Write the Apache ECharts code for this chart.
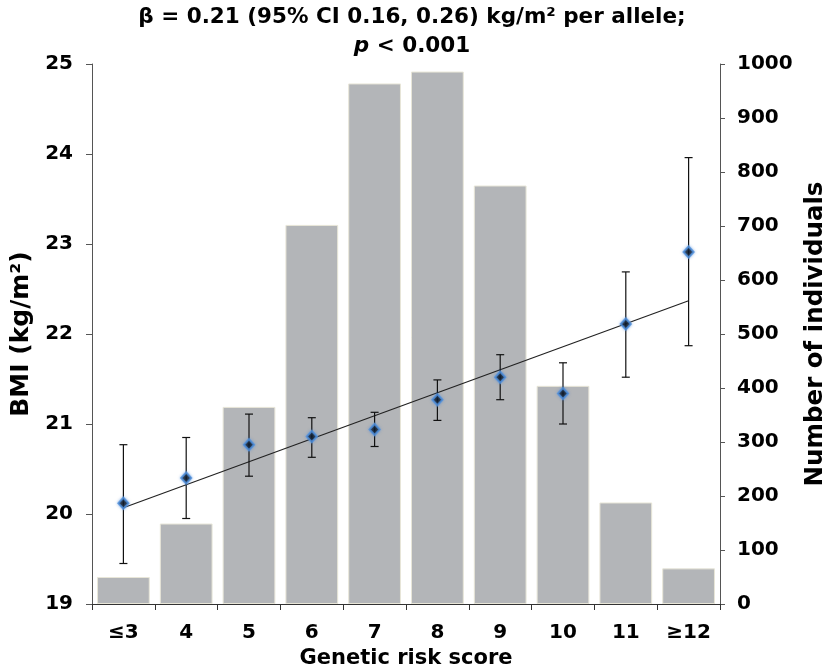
<!DOCTYPE html>
<html><head><meta charset="utf-8">
<script src="https://cdn.jsdelivr.net/npm/echarts@6/dist/echarts.min.js"></script>
<style>html,body{margin:0;padding:0;background:#fff}#c{width:824px;height:668px}</style>
</head><body><div id="c"></div>
<script>
const categories = ['≤3','4','5','6','7','8','9','10','11','≥12'];
const counts = [50, 149, 365, 702, 964, 986, 775, 404, 188, 66];
const bmiMean = [20.12, 20.40, 20.77, 20.86, 20.94, 21.27, 21.52, 21.34, 22.11, 22.91];
const ciLow  = [19.45, 19.95, 20.42, 20.63, 20.75, 21.04, 21.27, 21.00, 21.52, 21.87];
const ciHigh = [20.77, 20.85, 21.11, 21.07, 21.13, 21.49, 21.77, 21.68, 22.69, 23.96];
const trendEnds = [20.07, 22.37];
const bmiTicks = [19, 25, 1];
const countTicks = [0, 1000, 100];

const FONT = 'DejaVu Sans';
const chart = echarts.init(document.getElementById('c'), null, {renderer:'canvas'});
const errData = categories.map((c,i)=>[i, ciLow[i], ciHigh[i]]);
chart.setOption({
  animation:false,
  backgroundColor:'#fff',
  textStyle:{fontFamily:FONT},
  title:{
    left:'center', top:-2,
    text:'{b|β = 0.21 (95% CI 0.16, 0.26) kg/m² per allele;}\n{i|p}{b| < 0.001}',
    textStyle:{
      rich:{
        b:{fontFamily:FONT,fontWeight:'bold',fontSize:21.5,color:'#000',lineHeight:29},
        i:{fontFamily:FONT,fontWeight:'bold',fontStyle:'italic',fontSize:21.5,color:'#000',lineHeight:29}
      }
    }
  },
  grid:{left:92,right:104,top:64,bottom:64,containLabel:false,outerBoundsMode:'none'},
  xAxis:{
    type:'category', data:categories, boundaryGap:true,
    axisLine:{lineStyle:{color:'#333',width:1}},
    axisTick:{show:true,length:6,inside:false,lineStyle:{color:'#333'}},
    axisLabel:{color:'#000',fontWeight:'bold',fontSize:20,fontFamily:FONT,margin:19},
    name:'Genetic risk score', nameLocation:'middle', nameGap:44,
    nameTextStyle:{color:'#000',fontWeight:'bold',fontSize:21,fontFamily:FONT}
  },
  yAxis:[{
    type:'value', min:bmiTicks[0], max:bmiTicks[1], interval:bmiTicks[2], position:'left',
    splitLine:{show:false},
    axisLine:{show:true,lineStyle:{color:'#555',width:1}},
    axisTick:{show:true,length:6,lineStyle:{color:'#555'}},
    axisLabel:{color:'#000',fontWeight:'bold',fontSize:20,fontFamily:FONT,margin:19},
    name:'BMI (kg/m²)', nameLocation:'middle', nameRotate:90, nameGap:56,
    nameTextStyle:{color:'#000',fontWeight:'bold',fontSize:25,fontFamily:FONT}
  },{
    type:'value', min:countTicks[0], max:countTicks[1], interval:countTicks[2], position:'right',
    splitLine:{show:false},
    axisLine:{show:true,lineStyle:{color:'#555',width:1}},
    axisTick:{show:true,length:5,lineStyle:{color:'#555'}},
    axisLabel:{color:'#000',fontWeight:'bold',fontSize:20,fontFamily:FONT,margin:17,
      formatter:function(v){return String(v);}},
    name:'Number of individuals', nameLocation:'middle', nameRotate:90, nameGap:79,
    nameTextStyle:{color:'#000',fontWeight:'bold',fontSize:24.5,fontFamily:FONT}
  }],
  series:[{
    type:'bar', yAxisIndex:1, data:counts, barCategoryGap:'16%',
    itemStyle:{color:'#b3b5b8',borderColor:'#e8e6d8',borderWidth:1},
    z:1
  },{
    type:'line', yAxisIndex:0, data:[[0,trendEnds[0]],[categories.length-1,trendEnds[1]]],
    symbol:'none', lineStyle:{color:'#222',width:1.2}, z:3
  },{
    type:'custom', yAxisIndex:0, data:errData, z:4,
    renderItem:function(params, api){
      const x = api.value(0);
      const lo = api.coord([x, api.value(1)]);
      const hi = api.coord([x, api.value(2)]);
      const cw = 4;
      const st = {stroke:'#111',lineWidth:1.2};
      return {type:'group',children:[
        {type:'line',shape:{x1:lo[0],y1:lo[1],x2:hi[0],y2:hi[1]},style:st},
        {type:'line',shape:{x1:lo[0]-cw,y1:lo[1],x2:lo[0]+cw,y2:lo[1]},style:st},
        {type:'line',shape:{x1:hi[0]-cw,y1:hi[1],x2:hi[0]+cw,y2:hi[1]},style:st}
      ]};
    }
  },{
    type:'scatter', yAxisIndex:0, data:bmiMean, symbol:'diamond', symbolSize:[10,11],
    itemStyle:{color:'#000',borderColor:'#4d8fdc',borderWidth:2,shadowColor:'rgba(80,140,220,0.7)',shadowBlur:3},
    z:5
  }]
});
</script></body></html>
